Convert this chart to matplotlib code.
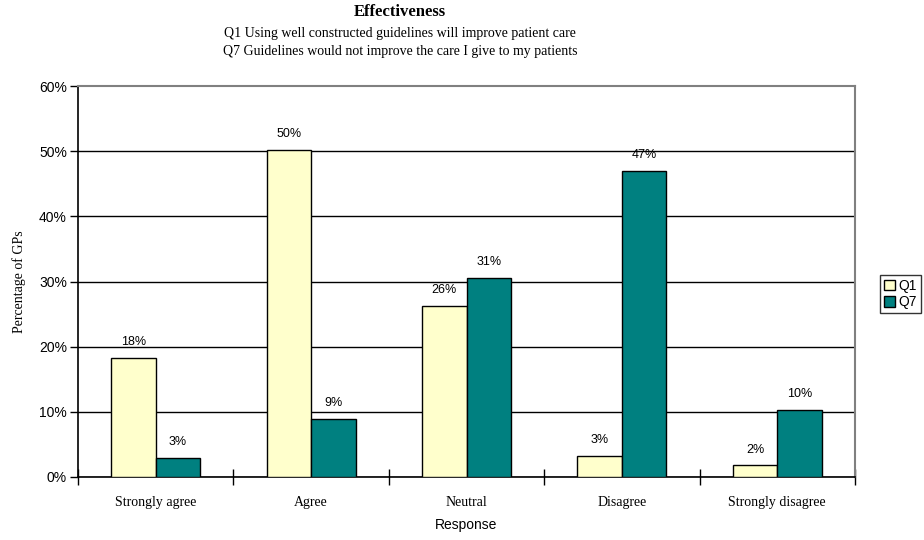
import numpy as np
import matplotlib
matplotlib.use("Agg")
import matplotlib.pyplot as plt
from matplotlib.ticker import FixedLocator, FuncFormatter

# survey responses, percentage of GPs
categories = ["Strongly agree", "Agree", "Neutral", "Disagree", "Strongly disagree"]
q1 = [18.3, 50.2, 26.3, 3.2, 1.8]
q7 = [2.9, 8.9, 30.6, 47.0, 10.3]
series_names = ["Q1", "Q7"]

SERIF = "Liberation Serif"
SANS = "Liberation Sans"

fig = plt.figure(figsize=(9.24, 5.40), dpi=100)
ax = fig.add_axes([78/924, 1-477/540, (855-78)/924, (477-86)/540])

x = np.arange(len(categories))
w = 0.287
b1 = ax.bar(x - w/2, q1, w, color="#FFFFCC", edgecolor="black", linewidth=1.0,
            label=series_names[0], zorder=3)
b2 = ax.bar(x + w/2, q7, w, color="#008080", edgecolor="black", linewidth=1.0,
            label=series_names[1], zorder=3)

for bars in (b1, b2):
    for r in bars:
        v = r.get_height()
        ax.annotate("%.0f%%" % v, (r.get_x() + r.get_width()/2, v),
                    xytext=(0, 7), textcoords="offset points",
                    ha="center", va="bottom", fontsize=9, family=SANS)

ax.set_xlim(-0.5, len(categories) - 0.5)
ax.set_ylim(0, 60)

ax.yaxis.set_major_locator(FixedLocator(np.arange(0, 61, 10)))
ax.yaxis.set_major_formatter(FuncFormatter(lambda v, p: "%d%%" % v))
ax.tick_params(axis="y", direction="out", length=6, width=1, labelsize=10, pad=2)
for t in ax.get_yticklabels():
    t.set_family(SANS)

ax.set_xticks(x)
ax.set_xticklabels(categories, family=SERIF, fontsize=10)
ax.tick_params(axis="x", length=0, pad=14)
ax.xaxis.set_minor_locator(FixedLocator(np.arange(-0.5, len(categories), 1.0)))
ax.tick_params(axis="x", which="minor", direction="inout", length=12, width=1)

ax.yaxis.grid(True, color="black", linewidth=1.0)
ax.set_axisbelow(True)
ax.get_ygridlines()[-1].set_visible(False)

for s in ("left", "bottom"):
    ax.spines[s].set_color("black")
    ax.spines[s].set_linewidth(1.2)
for s in ("top", "right"):
    ax.spines[s].set_color("#808080")
    ax.spines[s].set_linewidth(1.5)

ax.set_ylabel("Percentage of GPs", family=SERIF, fontsize=10, labelpad=9)
ax.set_xlabel("Response", family=SANS, fontsize=10, labelpad=6)

fig.text(400/924, 1-12/540, "Effectiveness", ha="center", va="center",
         family=SERIF, fontsize=12, fontweight="bold")
fig.text(400/924, 1-34/540, "Q1 Using well constructed guidelines will improve patient care",
         ha="center", va="center", family=SERIF, fontsize=10)
fig.text(400/924, 1-52/540, "Q7 Guidelines would not improve the care I give to my patients",
         ha="center", va="center", family=SERIF, fontsize=10)

leg = fig.legend(loc="center left", bbox_to_anchor=(880/924, 1-294/540),
                 prop={"family": SANS, "size": 10}, frameon=True, fancybox=False,
                 borderpad=0.3, handlelength=0.8, handleheight=0.8,
                 handletextpad=0.2, labelspacing=0.15, borderaxespad=0)
leg.get_frame().set_edgecolor("black")
leg.get_frame().set_linewidth(1.0)

fig.savefig("out.png", dpi=100)
